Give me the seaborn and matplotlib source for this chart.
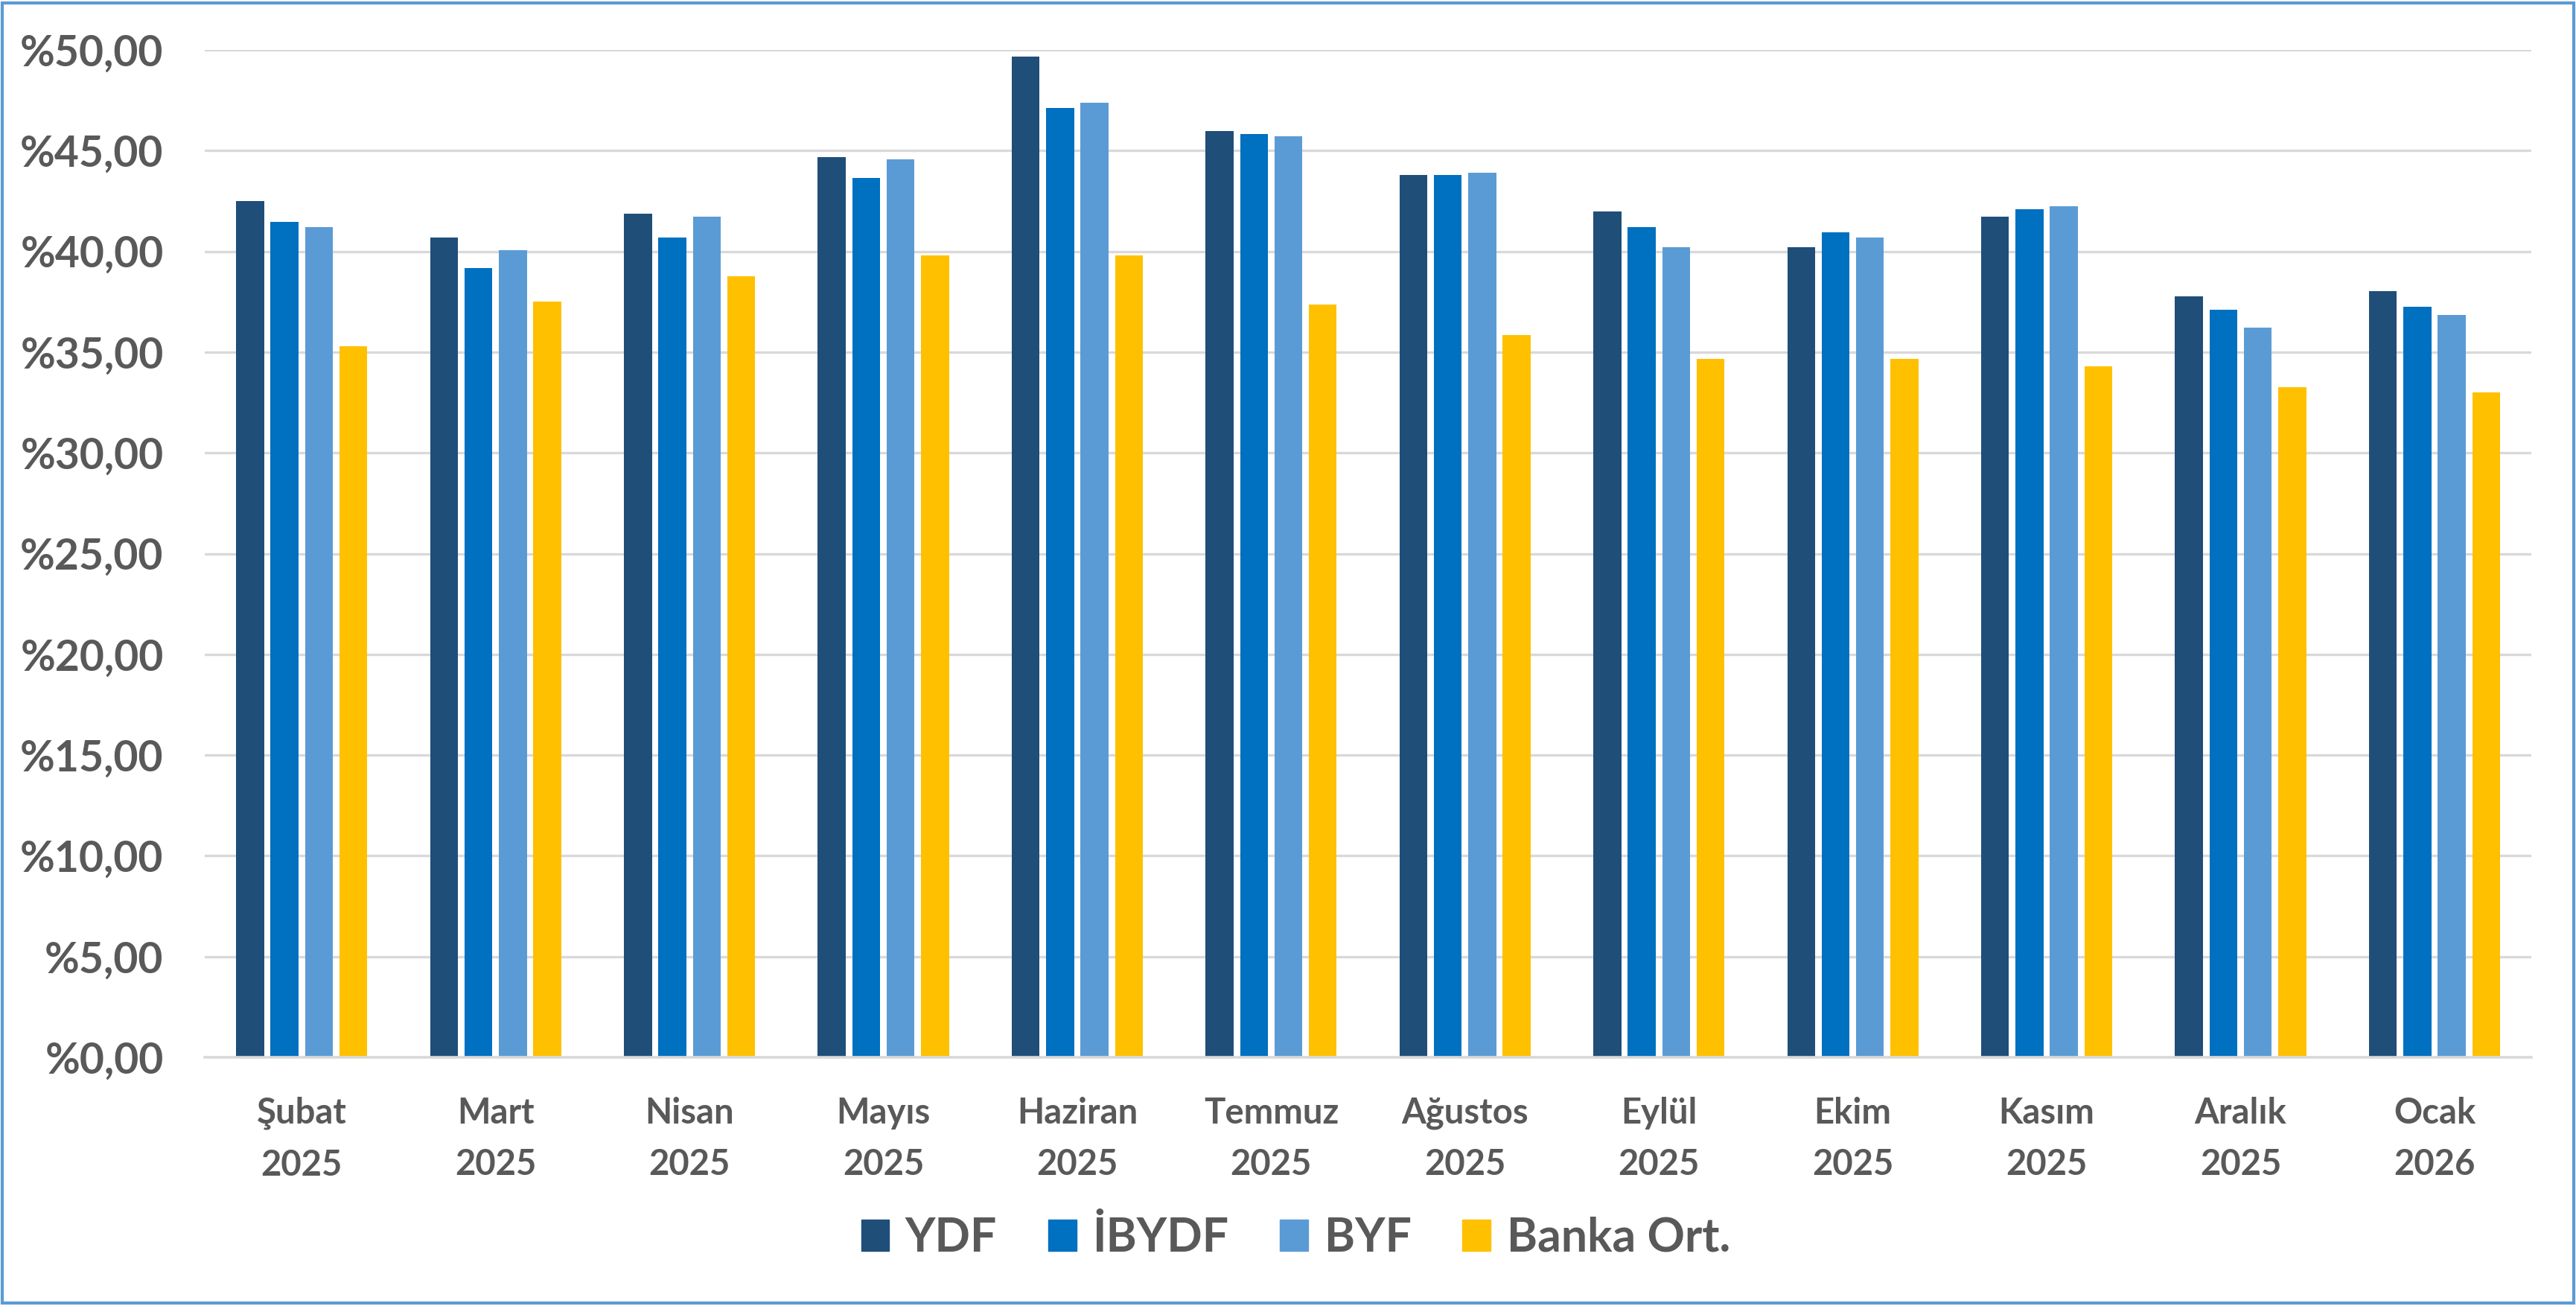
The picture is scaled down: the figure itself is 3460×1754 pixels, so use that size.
import pandas as pd
import matplotlib.pyplot as plt
import seaborn as sns
from matplotlib.ticker import FuncFormatter, MultipleLocator
from matplotlib.patches import Rectangle

# --- Data ---
months = ['Şubat\n2025', 'Mart\n2025', 'Nisan\n2025', 'Mayıs\n2025', 'Haziran\n2025',
          'Temmuz\n2025', 'Ağustos\n2025', 'Eylül\n2025', 'Ekim\n2025', 'Kasım\n2025',
          'Aralık\n2025', 'Ocak\n2026']
ydf = [42.48, 40.70, 41.86, 44.67, 49.68, 45.96, 43.79, 41.97, 40.19, 41.73, 37.76, 38.01]
ibydf = [41.45, 39.16, 40.70, 43.65, 47.11, 45.83, 43.79, 41.21, 40.96, 42.11, 37.10, 37.24]
byf = [41.21, 40.05, 41.73, 44.55, 47.37, 45.71, 43.91, 40.19, 40.70, 42.24, 36.20, 36.86]
banka = [35.31, 37.50, 38.78, 39.80, 39.80, 37.36, 35.83, 34.67, 34.67, 34.29, 33.25, 33.00]
series_names = ['YDF', 'İBYDF', 'BYF', 'Banka Ort.']
colors = ['#1F4E79', '#0070C0', '#5B9BD5', '#FFC000']

rows = []
for name, vals in zip(series_names, [ydf, ibydf, byf, banka]):
    for m, v in zip(months, vals):
        rows.append({'Ay': m, 'Oran': v, 'Seri': name})
df = pd.DataFrame(rows)

# --- Plot ---
sns.set_theme(style="white")
plt.rcParams['font.family'] = ['Lato', 'DejaVu Sans']
plt.rcParams['font.weight'] = 'bold'

TXT = '#595959'
fig = plt.figure(figsize=(34.6, 17.54), dpi=100)
ax = fig.add_axes([0.0795, 0.1904, 0.9032, 0.7714])

sns.barplot(data=df, x='Ay', y='Oran', hue='Seri', palette=colors, order=months,
            hue_order=series_names, width=0.71, gap=0.19, saturation=1,
            linewidth=0, ax=ax)

ax.set_ylim(0, 50)
ax.yaxis.set_major_locator(MultipleLocator(5))
ax.yaxis.set_major_formatter(FuncFormatter(lambda v, p: ('%' + f"{v:.2f}").replace('.', ',')))
ax.grid(axis='y', color='#D9D9D9', linewidth=2.4, zorder=0)
ax.set_axisbelow(True)
for s in ['top', 'left', 'right']:
    ax.spines[s].set_visible(False)
ax.spines['bottom'].set_color('#D9D9D9')
ax.spines['bottom'].set_linewidth(2.6)
ax.set_xlabel('')
ax.set_ylabel('')
ax.tick_params(axis='y', length=0, pad=40, labelsize=41, labelcolor=TXT)
ax.tick_params(axis='x', length=0, pad=38, labelsize=34, labelcolor=TXT)
for lab in ax.get_xticklabels():
    lab.set_linespacing(1.7)
    lab.set_fontweight('bold')
for lab in ax.get_yticklabels():
    lab.set_fontweight('bold')

ax.legend_.remove()
handles = [Rectangle((0, 0), 1, 1, color=c) for c in colors]
leg = fig.legend(handles, series_names, loc='center', bbox_to_anchor=(0.503, 0.052),
                 ncol=4, frameon=False, fontsize=45, handlelength=0.6, handleheight=0.65,
                 handletextpad=0.35, columnspacing=1.1)
for t in leg.get_texts():
    t.set_color(TXT)
    t.set_fontweight('bold')

# outer border
fig.patches.append(Rectangle((0.001, 0.002), 0.998, 0.996, transform=fig.transFigure,
                             fill=False, edgecolor='#5B9BD5', linewidth=3))

plt.savefig('out.png', dpi=100)
